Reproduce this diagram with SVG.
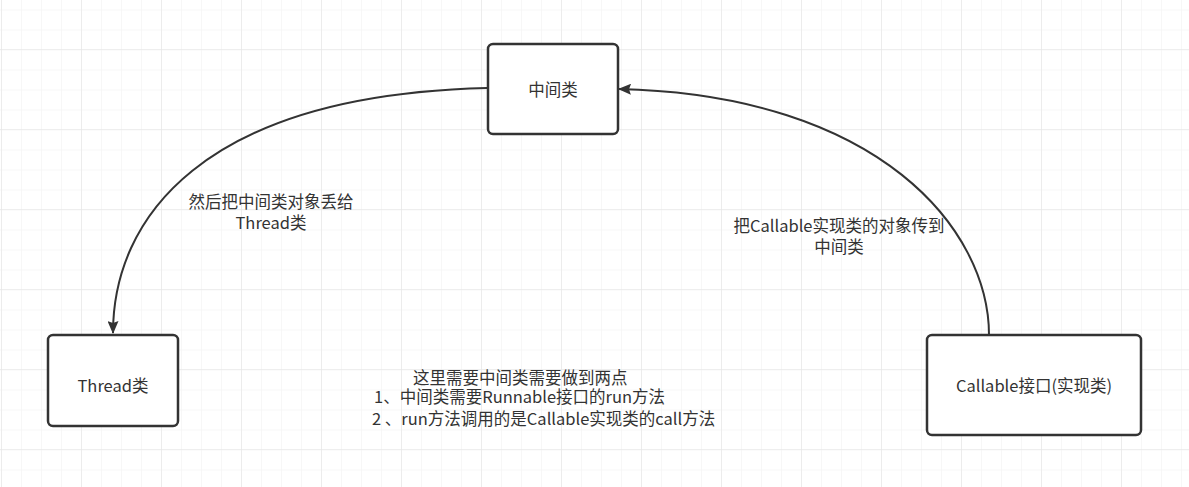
<svg xmlns="http://www.w3.org/2000/svg" width="1189" height="487" viewBox="0 0 1189 487">
<defs>
<pattern id="minor" width="20" height="20" patternUnits="userSpaceOnUse" x="1" y="9.5">
<path d="M0 0H20M0 0V20" fill="none" stroke="#efefef" stroke-width="1"/>
</pattern>
<pattern id="major" width="80" height="80" patternUnits="userSpaceOnUse" x="1" y="49">
<path d="M0 0H80M0 0V80" fill="none" stroke="#e2e2e2" stroke-width="1"/>
</pattern>
<marker id="arrow" viewBox="0 0 13 11" refX="12" refY="5.5" markerWidth="13" markerHeight="11" markerUnits="userSpaceOnUse" orient="auto">
<path d="M0 0L13 5.5L0 11L2 5.5Z" fill="#333"/>
</marker>
</defs>
<style>
.node{fill:#fff;stroke:#333;stroke-width:2.5}
.t{font-family:"Microsoft YaHei","Noto Sans CJK SC",sans-serif;font-size:16.5px;fill:#333}
.m{text-anchor:middle}
.edge{fill:none;stroke:#333;stroke-width:2}
</style>
<rect width="1189" height="487" fill="#fff"/>
<rect width="1189" height="487" fill="url(#minor)"/>
<rect width="1189" height="487" fill="url(#major)"/>
<g id="connectors">
<path class="edge" d="M487 88C200 95 113 220 113 333" marker-end="url(#arrow)"/>
<path class="edge" d="M989 335C989 230 880 95 619 89" marker-end="url(#arrow)"/>
</g>
<g id="node-middle">
<rect class="node" x="488" y="44" width="130" height="90" rx="5"/>
<text class="t m" x="553" y="96">中间类</text>
</g>
<g id="node-thread">
<rect class="node" x="48" y="335" width="130" height="91" rx="5"/>
<text class="t m" x="113" y="392">Thread类</text>
</g>
<g id="node-callable">
<rect class="node" x="927" y="335" width="214" height="100" rx="5"/>
<text class="t m" x="1034" y="392">Callable接口(实现类)</text>
</g>
<g id="labels">
<text class="t m" x="271" y="208">然后把中间类对象丢给</text>
<text class="t m" x="271" y="229">Thread类</text>
<text class="t m" x="839" y="232">把Callable实现类的对象传到</text>
<text class="t m" x="839" y="253">中间类</text>
<text class="t" x="413" y="384">这里需要中间类需要做到两点</text>
<text class="t" x="374" y="403">1、中间类需要Runnable接口的run方法</text>
<text class="t" x="372" y="425">2 、run方法调用的是Callable实现类的call方法</text>
</g>
</svg>
